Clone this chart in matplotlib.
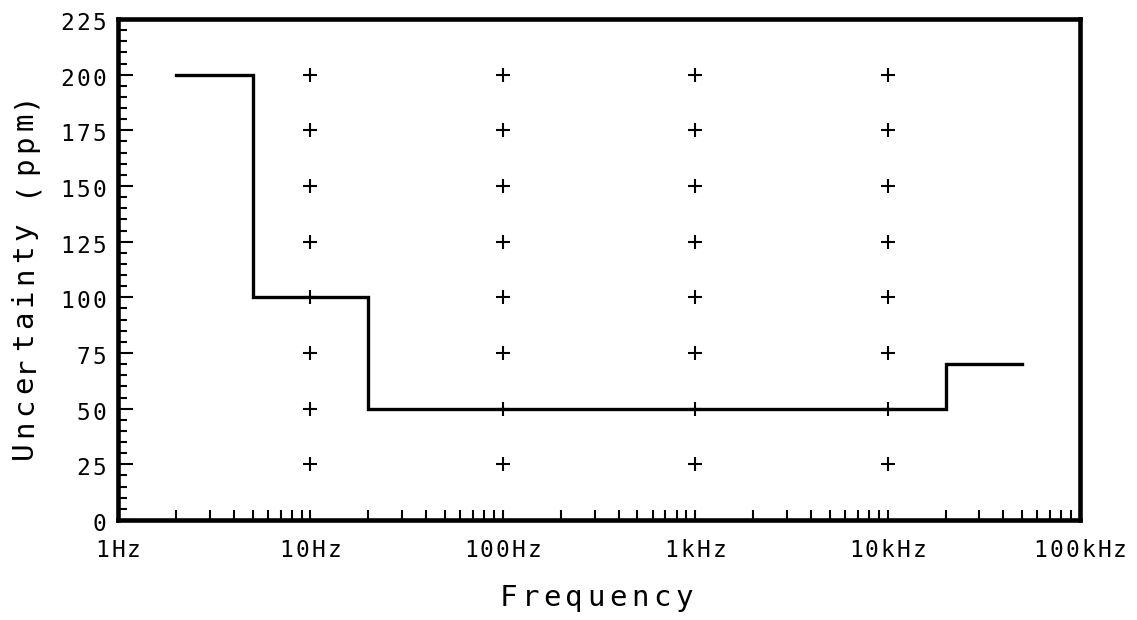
import matplotlib as mpl
import matplotlib.pyplot as plt
import matplotlib.transforms as mtransforms
import numpy as np
from matplotlib.ticker import FixedLocator, NullFormatter

mpl.rc('font', family='DejaVu Sans Mono')

# step curve of the uncertainty spec
freqEdges = [2., 5., 20., 20e3, 50e3]
ppmLevels = [200, 100, 50, 70]

# grid crosses
crossFreqs = [10., 100., 1e3, 1e4]
crossPpm = [25, 50, 75, 100, 125, 150, 175, 200]

xTicks = [1., 10., 100., 1e3, 1e4, 1e5]
xTickLabels = ["1Hz", "10Hz", "100Hz", "1kHz", "10kHz", "100kHz"]
yTicks = [0, 25, 50, 75, 100, 125, 150, 175, 200, 225]

fig = plt.figure(figsize=(11.37, 6.2), dpi=100, facecolor="w")
ax = fig.add_axes([0.1038, 0.1613, 0.8461, 0.8081])

def spacedText(x, y, s, adv, transform, dx=0., dy=0., ha="center",
    vertical=False, size=14):
  # plotter style text: every char in its own cell, adv in points
  n = len(s)
  for i, ch in enumerate(s):
    if ch == " ":
      continue
    if ha == "center":
      off = (i - (n-1)/2.)*adv
    else:
      off = -(n-1-i)*adv - adv/2.
    if vertical:
      tr = mtransforms.offset_copy(transform, fig=fig, x=dx, y=dy+off,
        units="points")
      ax.text(x, y, ch, transform=tr, ha="center", va="baseline",
        rotation=90, rotation_mode="anchor", size=size, clip_on=False)
    else:
      tr = mtransforms.offset_copy(transform, fig=fig, x=dx+off, y=dy,
        units="points")
      ax.text(x, y, ch, transform=tr, ha="center", va="baseline",
        size=size, clip_on=False)

# build step path from the edges
xs, ys = [], []
for i, lvl in enumerate(ppmLevels):
  xs += [freqEdges[i], freqEdges[i+1]]
  ys += [lvl, lvl]
ax.plot(xs, ys, "-", color="black", lw=2.4, solid_joinstyle="miter")

cx, cy = np.meshgrid(crossFreqs, crossPpm)
ax.plot(cx.ravel(), cy.ravel(), "+", color="black", ms=10.5, mew=1.5)

ax.set_xscale("log")
ax.set_xlim(1., 1e5)
ax.set_ylim(0, 225)

ax.xaxis.set_major_locator(FixedLocator(xTicks))
ax.xaxis.set_major_formatter(NullFormatter())
minors = [m*10.**d for d in range(5) for m in range(2, 10)]
ax.xaxis.set_minor_locator(FixedLocator(minors))
ax.xaxis.set_minor_formatter(NullFormatter())
ax.yaxis.set_major_locator(FixedLocator(yTicks))
ax.yaxis.set_major_formatter(NullFormatter())
ax.yaxis.set_minor_locator(FixedLocator(np.arange(0, 226, 5)))

ax.tick_params(which="both", direction="in", top=False, right=False,
  width=1.5, colors="black")
ax.tick_params(axis="x", which="both", length=7)
ax.tick_params(axis="y", which="major", length=11)
ax.tick_params(axis="y", which="minor", length=6.5)

for sp in ax.spines.values():
  sp.set_linewidth(3.3)

# tick labels
for xt, lbl in zip(xTicks, xTickLabels):
  spacedText(xt, 0., lbl, 11.5, ax.get_xaxis_transform(), dy=-26.5,
    size=16.5)
for yt in yTicks:
  spacedText(0., yt, str(yt), 11.5, ax.get_yaxis_transform(), dx=-8.,
    dy=-7.9, ha="right", size=16.5)

# axis labels
spacedText(596/1137., 14/620., "Frequency", 15.8, fig.transFigure, size=21)
spacedText(32/1137., 345/620., "Uncertainty (ppm)", 15.8, fig.transFigure,
  vertical=True, size=21)

plt.savefig("out.png", dpi=100)
